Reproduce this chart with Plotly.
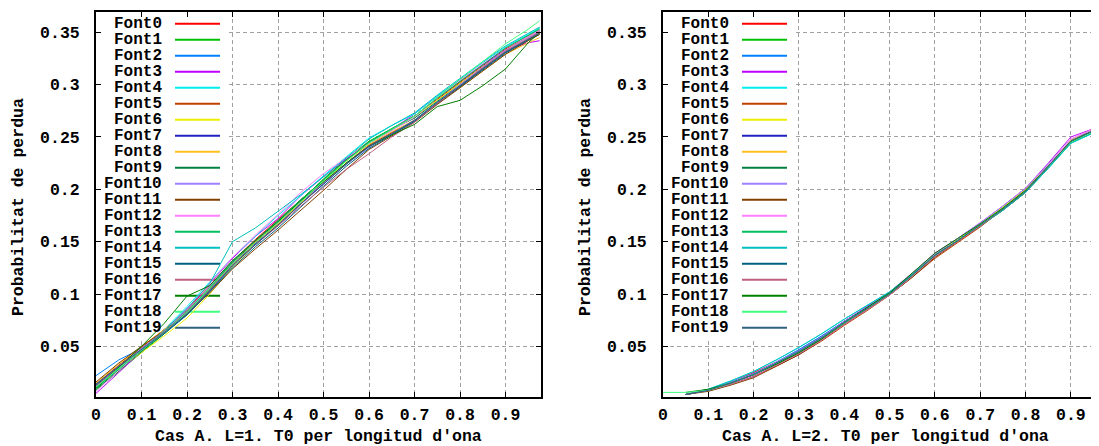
import plotly.graph_objects as go

# ---------------- data ----------------
x_vals = [0.0, 0.05, 0.1, 0.15, 0.2, 0.25, 0.3, 0.35, 0.4, 0.45, 0.5,
          0.55, 0.6, 0.65, 0.7, 0.75, 0.8, 0.85, 0.9, 0.95, 0.975]

series_names = ["Font%d" % i for i in range(20)]

colors = ["#ff0000", "#00c000", "#0080ff", "#c000ff", "#00eeee", "#c04000",
          "#eeee00", "#2020c0", "#ffc020", "#008040", "#a080ff", "#804000",
          "#ff80ff", "#00c060", "#00c0c0", "#006080", "#c06080", "#008000",
          "#40ff80", "#306080"]

# Panel 1: Cas A. L=1
L1 = [
    [.013, .031, .049, .066, .085, .108, .131, .152, .171, .190, .209, .228, .244, .257, .270, .286, .302, .318, .334, .346, .352],
    [.008, .026, .044, .062, .081, .104, .129, .149, .169, .189, .210, .229, .246, .258, .270, .287, .303, .319, .335, .347, .354],
    [.022, .037, .048, .063, .080, .102, .127, .147, .166, .186, .206, .225, .242, .254, .266, .283, .299, .316, .332, .344, .351],
    [.005, .025, .045, .065, .086, .110, .134, .155, .172, .194, .212, .229, .245, .257, .272, .289, .304, .319, .333, .340, .342],
    [.010, .029, .047, .066, .088, .111, .135, .155, .175, .194, .213, .231, .249, .261, .272, .289, .305, .321, .336, .348, .354],
    [.014, .032, .049, .066, .084, .106, .130, .150, .167, .187, .206, .225, .242, .254, .266, .282, .298, .315, .331, .343, .349],
    [.011, .028, .044, .060, .077, .100, .126, .147, .166, .187, .207, .227, .244, .257, .269, .285, .301, .317, .333, .345, .351],
    [.012, .030, .046, .063, .082, .104, .128, .148, .166, .186, .205, .224, .241, .253, .265, .282, .298, .315, .331, .343, .350],
    [.015, .033, .050, .066, .083, .105, .129, .149, .167, .188, .208, .227, .243, .255, .266, .282, .297, .313, .329, .340, .345],
    [.009, .027, .045, .063, .082, .105, .130, .151, .170, .190, .209, .228, .245, .257, .268, .284, .300, .316, .331, .342, .348],
    [.013, .031, .048, .065, .084, .107, .131, .151, .169, .188, .206, .224, .240, .253, .266, .283, .300, .317, .333, .345, .351],
    [.016, .034, .050, .065, .081, .101, .124, .143, .161, .180, .199, .219, .238, .251, .264, .281, .297, .313, .329, .342, .348],
    [.007, .027, .046, .065, .086, .110, .135, .156, .176, .197, .215, .230, .244, .256, .269, .287, .304, .320, .335, .346, .352],
    [.010, .028, .046, .064, .083, .106, .131, .151, .170, .190, .209, .228, .245, .258, .270, .287, .303, .319, .335, .347, .353],
    [.011, .029, .047, .065, .086, .110, .150, .163, .179, .195, .212, .230, .248, .261, .273, .290, .306, .322, .337, .349, .355],
    [.013, .030, .046, .062, .080, .102, .125, .145, .163, .183, .203, .222, .239, .252, .265, .282, .298, .314, .330, .343, .350],
    [.012, .030, .047, .064, .082, .104, .128, .147, .165, .184, .202, .219, .234, .250, .264, .282, .299, .316, .332, .344, .350],
    [.010, .030, .050, .072, .098, .108, .132, .151, .169, .189, .207, .225, .241, .252, .262, .279, .285, .299, .315, .340, .350],
    [.011, .029, .046, .063, .082, .105, .129, .149, .168, .188, .208, .227, .244, .257, .270, .288, .305, .322, .339, .353, .361],
    [.014, .031, .047, .063, .081, .103, .127, .147, .166, .186, .205, .224, .241, .253, .266, .283, .299, .315, .331, .343, .349],
]

# Panel 2: Cas A. L=2
L2 = [
    [None, .004, .008, .016, .025, .035, .046, .059, .074, .087, .101, .118, .136, .150, .166, .182, .199, .222, .246, .256, .262],
    [None, .004, .008, .014, .022, .032, .043, .056, .071, .085, .099, .117, .136, .151, .167, .182, .199, .223, .247, .257, .262],
    [None, .004, .009, .016, .024, .035, .047, .060, .074, .087, .101, .119, .137, .152, .166, .181, .198, .221, .245, .255, .260],
    [None, .004, .008, .015, .023, .034, .045, .058, .074, .088, .102, .120, .139, .153, .168, .184, .201, .225, .250, .258, .263],
    [None, .004, .009, .017, .026, .037, .049, .062, .076, .089, .102, .119, .137, .151, .165, .180, .197, .220, .244, .254, .259],
    [None, .004, .008, .014, .021, .031, .042, .055, .070, .084, .099, .116, .134, .149, .164, .181, .198, .222, .247, .258, .264],
    [None, .004, .008, .015, .023, .034, .045, .058, .073, .087, .101, .119, .138, .152, .167, .183, .200, .223, .247, .257, .261],
    [None, .004, .008, .015, .024, .034, .046, .059, .073, .086, .100, .118, .137, .151, .166, .182, .199, .222, .246, .256, .261],
    [None, .004, .008, .015, .023, .033, .044, .057, .072, .086, .100, .118, .137, .151, .166, .182, .200, .223, .246, .256, .260],
    [None, .004, .008, .015, .022, .033, .044, .057, .072, .086, .100, .117, .136, .151, .166, .181, .198, .221, .245, .255, .260],
    [None, .004, .008, .016, .024, .035, .046, .059, .074, .087, .101, .119, .138, .153, .168, .184, .201, .224, .248, .257, .262],
    [None, .004, .007, .013, .020, .031, .042, .056, .071, .085, .099, .116, .135, .150, .165, .180, .197, .221, .245, .256, .261],
    [None, .004, .008, .014, .022, .032, .043, .056, .071, .085, .099, .117, .136, .151, .166, .182, .199, .223, .248, .258, .263],
    [None, .004, .008, .015, .023, .033, .044, .057, .072, .086, .100, .118, .137, .151, .166, .182, .199, .222, .246, .256, .261],
    [None, .004, .009, .017, .026, .037, .049, .062, .076, .089, .102, .119, .137, .151, .165, .180, .197, .220, .244, .254, .259],
    [None, .004, .008, .015, .023, .034, .045, .058, .073, .087, .101, .118, .137, .151, .166, .181, .198, .221, .245, .255, .260],
    [None, .004, .008, .014, .021, .032, .043, .056, .071, .085, .099, .117, .136, .150, .165, .181, .198, .222, .246, .256, .261],
    [None, .006, .009, .015, .023, .033, .044, .057, .073, .087, .101, .120, .139, .153, .167, .182, .199, .222, .246, .256, .261],
    [.006, .006, .008, .015, .023, .034, .045, .058, .073, .086, .100, .118, .137, .151, .166, .181, .198, .221, .245, .255, .260],
    [None, .004, .008, .015, .023, .034, .045, .058, .073, .086, .100, .118, .137, .151, .166, .181, .198, .222, .246, .256, .261],
]

x_ticks = [0, 0.1, 0.2, 0.3, 0.4, 0.5, 0.6, 0.7, 0.8, 0.9]
x_tick_labels = ["0", "0.1", "0.2", "0.3", "0.4", "0.5", "0.6", "0.7", "0.8", "0.9"]
y_ticks = [0.05, 0.1, 0.15, 0.2, 0.25, 0.3, 0.35]
y_tick_labels = ["0.05", "0.1", "0.15", "0.2", "0.25", "0.3", "0.35"]

x_titles = ["Cas A. L=1. T0 per longitud d'ona", "Cas A. L=2. T0 per longitud d'ona"]
y_title = "Probabilitat de perdua"

# ---------------- layout geometry ----------------
# The page body has an 8px margin; all positions below are screen pixels,
# converted to figure pixels by subtracting OFF.
OFF = 8
W, H = 1099 - OFF, 446 - OFF
TOP, BOTTOM = 12 - OFF, 397 - OFF
PANELS = [(96 - OFF, 541 - OFF, [0, 0.978]), (663 - OFF, 1099 - OFF, [0, 0.962])]
YRANGE = [0.0016, 0.3694]
PH = BOTTOM - TOP

FONT = dict(family="Liberation Mono", size=16.5, color="black", weight="bold")
KEY_FONT = dict(family="Liberation Mono", size=16, color="black", weight="bold")

fig = go.Figure()

for p, data in enumerate([L1, L2]):
    xa = "x" if p == 0 else "x2"
    ya = "y" if p == 0 else "y2"
    for i, ys in enumerate(data):
        fig.add_trace(go.Scatter(
            x=x_vals, y=ys, mode="lines", name=series_names[i],
            line=dict(color=colors[i], width=1), showlegend=False,
            xaxis=xa, yaxis=ya, connectgaps=False))

axis_common = dict(
    showline=True, linecolor="black", linewidth=2,
    ticks="inside", ticklen=5, tickwidth=1, tickcolor="black",
    showgrid=True, gridcolor="#a0a0a0", gridwidth=1, griddash="4px,3px",
    zeroline=False, automargin=False, tickfont=FONT,
)

layout = dict(
    width=W, height=H,
    margin=dict(l=0, r=0, t=TOP, b=H - BOTTOM),
    paper_bgcolor="white", plot_bgcolor="white",
    showlegend=False,
)

for p, (x0, x1, xr) in enumerate(PANELS):
    sfx = "" if p == 0 else "2"
    layout["xaxis" + sfx] = dict(
        axis_common, domain=[x0 / W, x1 / W], range=xr,
        tickvals=x_ticks, ticktext=x_tick_labels,
        mirror="ticks", ticklabelstandoff=1, anchor="y" + sfx)
    layout["yaxis" + sfx] = dict(
        axis_common, domain=[0, 1], range=YRANGE,
        tickvals=y_ticks, ticktext=y_tick_labels,
        mirror="ticks" if p == 0 else False, ticklabelstandoff=11,
        anchor="x" + sfx)

fig.update_layout(**layout)


def px_to_x(p, px):
    x0, x1, xr = PANELS[p]
    return xr[0] + (px - x0) / (x1 - x0) * (xr[1] - xr[0])


def py_to_y(py):
    return YRANGE[0] + (BOTTOM - py) / PH * (YRANGE[1] - YRANGE[0])


shapes = []
annotations = []
for p, (x0, x1, xr) in enumerate(PANELS):
    sfx = "" if p == 0 else "2"
    xref = "x" + sfx
    yref = "y" + sfx
    # opaque key box (above grid, below data)
    shapes.append(dict(type="rect", xref=xref, yref=yref,
                       x0=px_to_x(p, x0 + 1), x1=px_to_x(p, x0 + 132),
                       y0=py_to_y(338 - OFF), y1=py_to_y(TOP + 1),
                       fillcolor="white", line=dict(width=0), layer="between"))
    for i in range(20):
        py = 23.7 - OFF + 16 * i
        yv = py_to_y(py)
        shapes.append(dict(type="line", xref=xref, yref=yref,
                           x0=px_to_x(p, x0 + 79), x1=px_to_x(p, x0 + 124),
                           y0=yv, y1=yv,
                           line=dict(color=colors[i], width=2), layer="between"))
        annotations.append(dict(text=series_names[i], xref="paper", yref="paper",
                                x=(x0 + 67) / W, y=(BOTTOM - py) / PH,
                                xanchor="right", yanchor="middle",
                                showarrow=False, font=KEY_FONT, borderpad=0))
    # axis titles
    cx = (x0 + x1) / 2 if p == 0 else (x0 + 444 / 2)
    annotations.append(dict(text=x_titles[p], xref="paper", yref="paper",
                            x=cx / W, y=(BOTTOM - (436.7 - OFF)) / PH,
                            xanchor="center", yanchor="middle",
                            showarrow=False, font=FONT))
    tx = (18 if p == 0 else 585) - OFF
    annotations.append(dict(text=y_title, xref="paper", yref="paper",
                            x=tx / W, y=(BOTTOM - (207 - OFF)) / PH, textangle=-90,
                            xanchor="center", yanchor="middle",
                            showarrow=False, font=FONT))

fig.update_layout(shapes=shapes, annotations=annotations)

fig.write_html("out.html")
